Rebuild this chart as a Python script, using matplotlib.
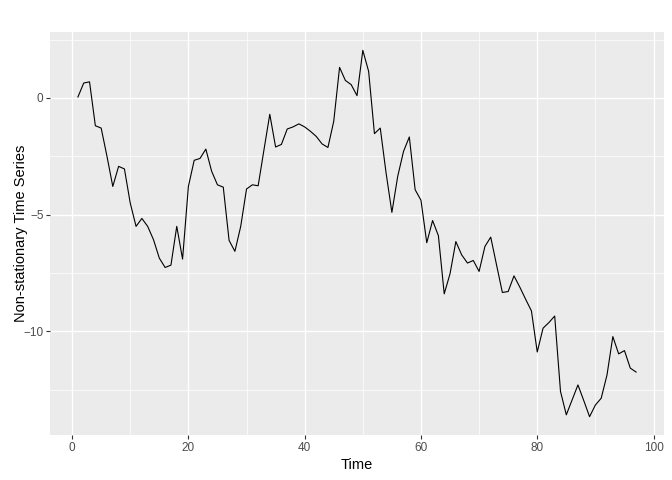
import matplotlib
matplotlib.use("Agg")
import matplotlib.pyplot as plt
from matplotlib.ticker import MultipleLocator

time = list(range(1, 98))
values = [
    0.04, 0.64, 0.69, -1.19, -1.29, -2.50, -3.79, -2.93, -3.04, -4.50,
    -5.50, -5.16, -5.50, -6.07, -6.86, -7.26, -7.16, -5.50, -6.90, -3.79,
    -2.67, -2.59, -2.19, -3.14, -3.72, -3.82, -6.10, -6.57, -5.50, -3.90,
    -3.72, -3.76, -2.22, -0.70, -2.10, -1.99, -1.33, -1.24, -1.11, -1.24,
    -1.43, -1.65, -1.97, -2.12, -1.00, 1.31, 0.75, 0.57, 0.10, 2.04,
    1.14, -1.53, -1.29, -3.21, -4.90, -3.36, -2.29, -1.67, -3.93, -4.38,
    -6.20, -5.25, -5.90, -8.39, -7.53, -6.15, -6.72, -7.07, -6.96, -7.43,
    -6.36, -5.96, -7.15, -8.33, -8.29, -7.62, -8.10, -8.62, -9.12, -10.88,
    -9.86, -9.62, -9.34, -12.57, -13.57, -12.93, -12.29, -12.96, -13.65, -13.15,
    -12.86, -11.86, -10.22, -10.96, -10.82, -11.57, -11.74,
]

plt.rcParams['font.family'] = ['Liberation Sans', 'DejaVu Sans']

fig = plt.figure(figsize=(6.72, 4.8), dpi=100)
# panel placed like the ggplot output (pixels: left 50, right 664, top 32, bottom 435)
ax = fig.add_axes([50 / 672, 1 - 435 / 480, (664 - 50) / 672, (435 - 32) / 480])

ax.set_facecolor('#EBEBEB')
ax.plot(time, values, color='black', linewidth=0.8)

# ggplot-style expansion of 5% on each side
xr = max(time) - min(time)
yr = max(values) - min(values)
ax.set_xlim(min(time) - 0.05 * xr, max(time) + 0.05 * xr)
ax.set_ylim(min(values) - 0.05 * yr, max(values) + 0.05 * yr)

ax.xaxis.set_major_locator(MultipleLocator(20))
ax.xaxis.set_minor_locator(MultipleLocator(10))
ax.yaxis.set_major_locator(MultipleLocator(5))
ax.yaxis.set_minor_locator(MultipleLocator(2.5))

ax.grid(which='major', color='white', linewidth=1.0)
ax.grid(which='minor', color='white', linewidth=0.5)
ax.set_axisbelow(True)

for s in ax.spines.values():
    s.set_visible(False)

ax.tick_params(which='major', length=2.7, width=0.8, color='#333333',
               labelcolor='#4D4D4D', labelsize=8.5, pad=2)
ax.tick_params(which='minor', length=0)

ax.set_xlabel('Time', fontsize=10.5, labelpad=3)
ax.set_ylabel('Non-stationary Time Series', fontsize=10.5)
ax.yaxis.set_label_coords(-22 / 614, 0.5)

fig.savefig('out.png', dpi=100)
